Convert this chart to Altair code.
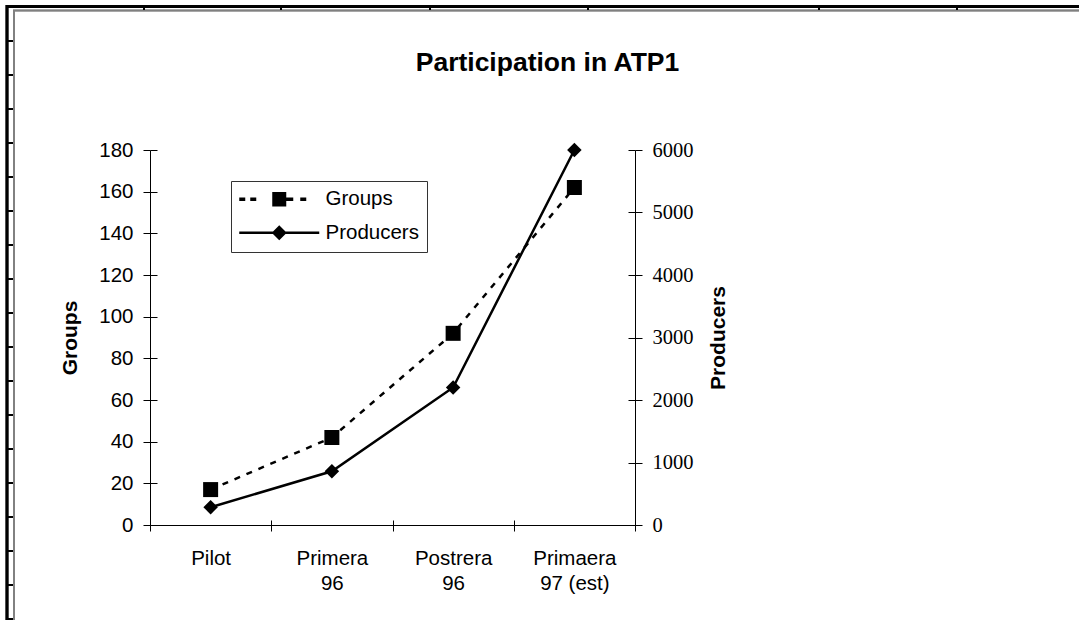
import altair as alt
import pandas as pd

# ---- data ----
periods = ["Pilot", "Primera 96", "Postrera 96", "Primaera 97 (est)"]
groups = [17, 42, 92, 162]
producers = [285, 860, 2200, 6000]
series_names = ["Groups", "Producers"]
groups_ticks = [0, 20, 40, 60, 80, 100, 120, 140, 160, 180]
producers_ticks = [0, 1000, 2000, 3000, 4000, 5000, 6000]

SANS = "Liberation Sans"
SERIF = "Liberation Serif"

wide = pd.DataFrame({"period": periods, "Groups": groups, "Producers": producers})
long = pd.DataFrame({
    "period": periods * 2,
    "series": [series_names[0]] * len(periods) + [series_names[1]] * len(periods),
    "value": groups + producers,
})

xscale = alt.Scale(type="band", domain=periods, paddingInner=0, paddingOuter=0)
gscale = alt.Scale(domain=[0, 180], nice=False, zero=True)
pscale = alt.Scale(domain=[0, 6000], nice=False, zero=True)

label_expr = ("indexof(datum.label, ' ') < 0 ? datum.label : "
              "[slice(datum.label, 0, indexof(datum.label, ' ')), "
              "slice(datum.label, indexof(datum.label, ' ') + 1)]")

x_main = alt.Axis(title=None, orient="bottom", tickBand="extent", domainColor="black",
                  tickColor="black", tickSize=6, labelFont=SANS, labelFontSize=20.5,
                  labelColor="black", labelPadding=17, labelLineHeight=25, labelAngle=0,
                  labelExpr=label_expr, labelOverlap=False, grid=False)
x_inner = alt.Axis(title=None, orient="bottom", tickBand="extent", domain=False,
                   labels=False, tickSize=5, offset=-5, tickColor="black", grid=False)

y_left = alt.Axis(title="Groups", orient="left", values=groups_ticks, tickSize=7,
                  tickColor="black", domainColor="black", labelFont=SANS,
                  labelFontSize=20.5, labelColor="black", labelPadding=10, grid=False,
                  titleFont=SANS, titleFontSize=21, titleFontWeight="bold",
                  titleColor="black", titlePadding=18)
y_left_inner = alt.Axis(title=None, orient="left", values=groups_ticks, domain=False,
                        labels=False, tickSize=7, offset=-7, tickColor="black", grid=False)
y_right = alt.Axis(title="Producers", orient="right", values=producers_ticks, format="d",
                   tickSize=7, tickColor="black", domainColor="black", labelFont=SERIF,
                   labelFontSize=20.5, labelColor="black", labelPadding=10, grid=False,
                   titleFont=SANS, titleFontSize=21, titleFontWeight="bold",
                   titleColor="black", titlePadding=14, titleAngle=270,
                   titleBaseline="top")
y_right_inner = alt.Axis(title=None, orient="right", values=producers_ticks, domain=False,
                         labels=False, tickSize=7, offset=-7, tickColor="black", grid=False)

base = alt.Chart(wide)

groups_line = base.mark_line(color="black", strokeWidth=2.5, strokeDash=[6, 7]).encode(
    x=alt.X("period:N", scale=xscale, axis=x_main, sort=periods),
    y=alt.Y("Groups:Q", scale=gscale, axis=y_left),
)
producers_line = base.mark_line(color="black", strokeWidth=2.5).encode(
    x=alt.X("period:N", scale=xscale, axis=None, sort=periods),
    y=alt.Y("Producers:Q", scale=pscale, axis=y_right),
)
groups_pts = base.mark_point(shape="square", filled=True, color="black", size=225,
                             opacity=1).encode(
    x=alt.X("period:N", scale=xscale, axis=x_inner, sort=periods),
    y=alt.Y("Groups:Q", scale=gscale, axis=y_left_inner),
)
producers_pts = base.mark_point(shape="diamond", filled=True, color="black", size=210,
                                opacity=1).encode(
    x=alt.X("period:N", scale=xscale, axis=None, sort=periods),
    y=alt.Y("Producers:Q", scale=pscale, axis=y_right_inner),
)

# legend symbols: line + marker drawn as custom paths (1 unit = 10 px)
groups_sym = ("M-1,-0.17H-0.4V0.17H-1Z M0.1,-0.17H0.7V0.17H0.1Z "
              "M2.3,-0.72H3.7V0.72H2.3Z M3.7,-0.17H4.4V0.17H3.7Z "
              "M5.1,-0.17H5.7V0.17H5.1Z")
producers_sym = "M-1,-0.13H7V0.13H-1Z M3,-0.75L3.75,0L3,0.75L2.25,0Z"

legend_layer = alt.Chart(long).mark_point(filled=True, color="black", opacity=0).encode(
    x=alt.X("period:N", scale=xscale, axis=None, sort=periods),
    y=alt.Y("value:Q", axis=None),
    shape=alt.Shape("series:N",
                    scale=alt.Scale(domain=series_names, range=[groups_sym, producers_sym]),
                    legend=alt.Legend(title=None, orient="none", legendX=81, legendY=31,
                                      symbolSize=400, symbolFillColor="black",
                                      symbolStrokeColor="black", symbolStrokeWidth=0,
                                      symbolOpacity=1, labelFont=SANS, labelFontSize=20.5,
                                      labelColor="black", labelOffset=66, rowPadding=12.5,
                                      padding=8, strokeColor="#333333",
                                      fillColor="white")),
)

# ---- spreadsheet frame decoration (outside the plot) ----
frame_v = alt.Chart(wide).mark_rule(color="black", strokeWidth=2.5).encode(
    x=alt.value(-143), y=alt.value(-145), y2=alt.value(470))
frame_h = alt.Chart(wide).mark_rule(color="black", strokeWidth=3).encode(
    x=alt.value(-144), x2=alt.value(929), y=alt.value(-143.5))
inner_v = alt.Chart(wide).mark_rule(color="#808080", strokeWidth=1.5).encode(
    x=alt.value(-136), y=alt.value(-140), y2=alt.value(470))
inner_h = alt.Chart(wide).mark_rule(color="#808080", strokeWidth=1.5).encode(
    x=alt.value(-137), x2=alt.value(929), y=alt.value(-139.5))

row_lines = pd.DataFrame({"py": [-109 + 34 * k for k in range(18)]})
col_lines = pd.DataFrame({"px": [-6, 131, 280, 438, 669, 807]})
row_ticks = alt.Chart(row_lines).mark_rule(color="black", strokeWidth=2).encode(
    y=alt.Y("py:Q", scale=None, axis=None), x=alt.value(-142), x2=alt.value(-137))
col_ticks = alt.Chart(col_lines).mark_rule(color="black", strokeWidth=2).encode(
    x=alt.X("px:Q", scale=None, axis=None), y=alt.value(-142), y2=alt.value(-140))

chart = alt.layer(
    frame_v, frame_h, inner_v, inner_h, row_ticks, col_ticks,
    groups_line, producers_line, groups_pts, producers_pts, legend_layer,
).resolve_scale(
    x="independent", y="independent", shape="independent"
).properties(
    width=485, height=375,
    title=alt.TitleParams("Participation in ATP1", font=SANS, fontSize=26.5,
                          fontWeight="bold", color="black", anchor="middle",
                          dx=155, offset=-73),
    autosize="none",
    padding={"left": 150, "top": 150, "right": 444, "bottom": 95},
    background="white",
).configure_view(stroke=None)

chart.save("out.html", embed_options={"renderer": "svg", "actions": False})
